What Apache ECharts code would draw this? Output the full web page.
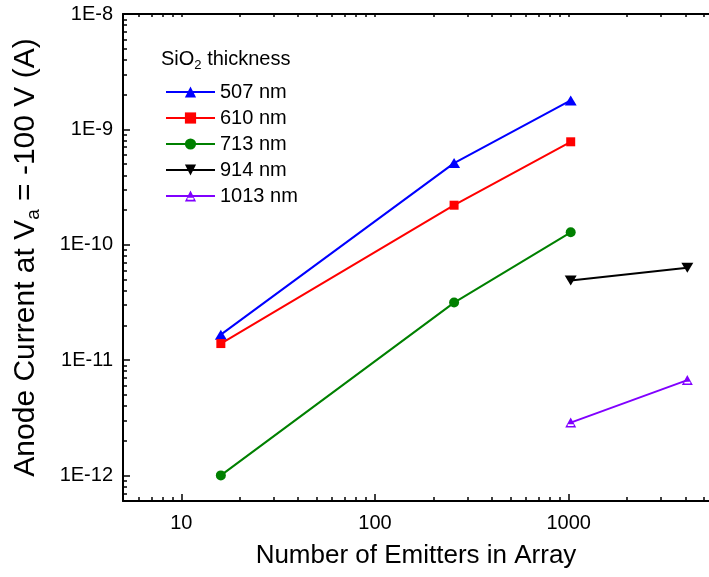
<!DOCTYPE html>
<html>
<head>
<meta charset="utf-8">
<script src="https://cdn.jsdelivr.net/npm/echarts@6/dist/echarts.min.js"></script>
<style>
  html, body { margin: 0; padding: 0; background: #fff; }
  #chart { width: 709px; height: 577px; }
</style>
</head>
<body>
<div id="chart"></div>
<script>
// data (x = emitters, y = anode current in A)
const emittersA = [16, 256, 1024];
const emittersB = [1024, 4096];
const current507 = [1.66e-11, 5.1e-10, 1.78e-9];
const current610 = [1.39e-11, 2.2e-10, 7.8e-10];
const current713 = [1.0e-12, 3.15e-11, 1.28e-10];
const current914 = [4.9e-11, 6.3e-11];
const current1013 = [2.87e-12, 6.7e-12];

const seriesNames = ['507 nm', '610 nm', '713 nm', '914 nm', '1013 nm'];
const xTickLabels = [10, 100, 1000];
const yTickLabels = [1e-12, 1e-11, 1e-10, 1e-9, 1e-8];
const xRange = [5, 5300];
const yRange = [6e-13, 1e-8];

const FONT = 'Liberation Sans, Arial, sans-serif';
const lg = Math.log10;

// minor ticks at 2..9 of each decade (log positions)
const minorTicks = (lo, hi) => {
  const out = [];
  for (let e = Math.floor(lg(lo)) - 1; e <= Math.ceil(lg(hi)); e++) {
    for (let k = 2; k <= 9; k++) {
      const v = k * Math.pow(10, e);
      if (v >= lo && v <= hi) out.push(lg(v));
    }
  }
  return out;
};

const xMin = lg(xRange[0]), xMax = lg(xRange[1]);
const yMin = lg(yRange[0]), yMax = lg(yRange[1]);
const xMajor = xTickLabels.map(lg);
const yMajor = yTickLabels.map(lg);
const xMinor = minorTicks(xRange[0], xRange[1]);
const yMinor = minorTicks(yRange[0], yRange[1]);

const toPoints = (xs, ys) => xs.map((x, i) => [lg(x), lg(ys[i])]);

// triangle outline, filled top with white band near the bottom
const halfTriangle = 'path://M5 0L10 9L0 9Z M2.3 6L2.3 7.6L7.7 7.6L7.7 6Z';

const chart = echarts.init(document.getElementById('chart'));

const baseAxis = {
  type: 'value',
  splitLine: { show: false },
  axisLine: { onZero: false, lineStyle: { color: '#000', width: 2 } },
  axisTick: { inside: true, length: 7, lineStyle: { color: '#000', width: 1.5 } },
  axisLabel: { show: false }
};

const option = {
  animation: false,
  backgroundColor: '#fff',
  grid: { left: 123, top: 14, right: 0, bottom: 76, containLabel: false },
  title: {
    text: 'SiO{sub|2} thickness',
    left: 161,
    top: 46,
    padding: 0,
    textStyle: {
      fontFamily: FONT, fontSize: 20, fontWeight: 'normal', color: '#000',
      rich: { sub: { fontFamily: FONT, fontSize: 13, padding: [13, 0, 0, 0], color: '#000' } }
    }
  },
  legend: {
    orient: 'vertical',
    left: 165,
    top: 81,
    padding: 0,
    itemWidth: 49,
    itemHeight: 14,
    itemGap: 4,
    data: seriesNames,
    textStyle: { fontFamily: FONT, fontSize: 20, color: '#000', lineHeight: 22 }
  },
  xAxis: [
    Object.assign({}, baseAxis, {
      position: 'bottom', min: xMin, max: xMax,
      axisTick: { inside: true, length: 7, customValues: xMajor, lineStyle: { color: '#000', width: 1.5 } },
      axisLabel: {
        show: true, customValues: xMajor, margin: 12,
        fontFamily: FONT, fontSize: 20, color: '#000',
        formatter: v => String(Math.round(Math.pow(10, v)))
      },
      name: 'Number of Emitters in Array',
      nameLocation: 'middle',
      nameGap: 42,
      nameTextStyle: { fontFamily: FONT, fontSize: 26, color: '#000' }
    }),
    Object.assign({}, baseAxis, {
      position: 'bottom', min: xMin, max: xMax,
      axisLine: { show: false },
      axisTick: { inside: true, length: 4, customValues: xMinor, lineStyle: { color: '#000', width: 1.5 } }
    }),
    Object.assign({}, baseAxis, {
      position: 'top', min: xMin, max: xMax,
      axisTick: { inside: true, length: 3, customValues: xMajor.concat(xMinor), lineStyle: { color: '#000', width: 1.5 } }
    })
  ],
  yAxis: [
    Object.assign({}, baseAxis, {
      position: 'left', min: yMin, max: yMax,
      axisTick: { inside: true, length: 7, customValues: yMajor, lineStyle: { color: '#000', width: 1.5 } },
      axisLabel: {
        show: true, customValues: yMajor, margin: 10,
        fontFamily: FONT, fontSize: 20, color: '#000',
        formatter: v => '1E' + Math.round(v)
      },
      name: 'Anode Current at V{sub|a} = -100 V (A)',
      nameLocation: 'middle',
      nameGap: 80,
      nameTextStyle: {
        fontFamily: FONT, fontSize: 30, color: '#000',
        rich: { sub: { fontFamily: FONT, fontSize: 19, padding: [16, 0, 0, 0], color: '#000' } }
      }
    }),
    Object.assign({}, baseAxis, {
      position: 'left', min: yMin, max: yMax,
      axisLine: { show: false },
      axisTick: { inside: true, length: 4, customValues: yMinor, lineStyle: { color: '#000', width: 1.5 } }
    })
  ],
  series: [
    {
      name: seriesNames[0], type: 'line', data: toPoints(emittersA, current507),
      symbol: 'triangle', symbolSize: [12, 10],
      lineStyle: { color: '#0000ff', width: 2 }, itemStyle: { color: '#0000ff' }
    },
    {
      name: seriesNames[1], type: 'line', data: toPoints(emittersA, current610),
      symbol: 'rect', symbolSize: 9,
      lineStyle: { color: '#ff0000', width: 2 }, itemStyle: { color: '#ff0000' }
    },
    {
      name: seriesNames[2], type: 'line', data: toPoints(emittersA, current713),
      symbol: 'circle', symbolSize: 10,
      lineStyle: { color: '#008000', width: 2 }, itemStyle: { color: '#008000' }
    },
    {
      name: seriesNames[3], type: 'line', data: toPoints(emittersB, current914),
      symbol: 'triangle', symbolRotate: 180, symbolSize: [12, 10],
      lineStyle: { color: '#000000', width: 2 }, itemStyle: { color: '#000000' }
    },
    {
      name: seriesNames[4], type: 'line', data: toPoints(emittersB, current1013),
      symbol: halfTriangle, symbolSize: [11, 10],
      lineStyle: { color: '#8000ff', width: 2 }, itemStyle: { color: '#8000ff' }
    }
  ]
};

chart.setOption(option);
</script>
</body>
</html>
